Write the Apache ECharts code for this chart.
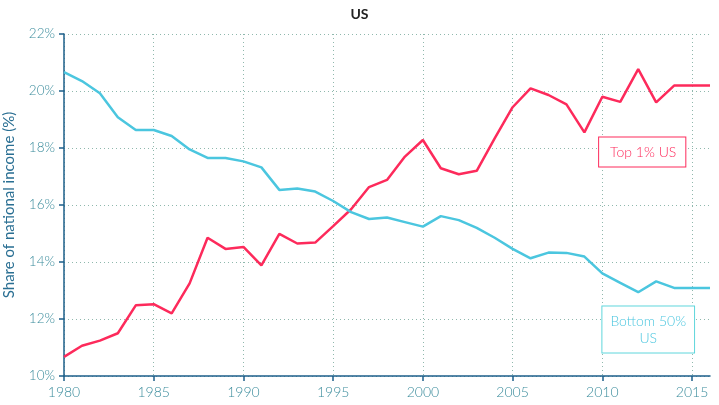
<!DOCTYPE html>
<html>
<head>
    <meta charset="utf-8">
    <title>US</title>
    <script src="https://cdn.jsdelivr.net/npm/echarts@6/dist/echarts.min.js"></script>
    <style>
        html, body { margin: 0; padding: 0; background: #fff; }
        #chart { width: 719px; height: 405px; }
    </style>
</head>
<body>
<div id="chart"></div>
<script>
    var years = [];
    for (var y = 1980; y <= 2016; y++) years.push(String(y));

    // share of national income, %
    var top1 = [10.67, 11.06, 11.24, 11.5, 12.48, 12.52, 12.2, 13.25, 14.85, 14.46,
        14.53, 13.88, 14.99, 14.65, 14.68, 15.26, 15.85, 16.63, 16.88, 17.7,
        18.28, 17.29, 17.08, 17.2, 18.34, 19.43, 20.09, 19.86, 19.53, 18.55,
        19.8, 19.62, 20.77, 19.6, 20.19, 20.19, 20.19];
    var bottom50 = [20.66, 20.35, 19.92, 19.08, 18.63, 18.63, 18.42, 17.95, 17.65, 17.65,
        17.53, 17.32, 16.53, 16.58, 16.47, 16.14, 15.75, 15.51, 15.56, 15.4,
        15.24, 15.61, 15.47, 15.2, 14.85, 14.46, 14.13, 14.33, 14.32, 14.19,
        13.6, 13.27, 12.94, 13.32, 13.09, 13.09, 13.09];

    var redColor = '#fd2a5b';
    var blueColor = '#4bc6df';
    var gridLine = { show: true, lineStyle: { color: '#8fb8ad', type: [1, 3], width: 1 } };

    var myChart = echarts.init(document.getElementById('chart'));
    myChart.setOption({
        animation: false,
        title: {
            text: 'US',
            left: 'center',
            top: 2,
            textStyle: { fontFamily: 'Lato', fontWeight: 'bold', fontSize: 14, color: '#222' }
        },
        grid: { left: 64, right: 9, top: 34, bottom: 29, outerBoundsMode: 'none', containLabel: false },
        xAxis: {
            type: 'category',
            data: years,
            boundaryGap: false,
            axisLine: { lineStyle: { color: '#1d5f8a', width: 1.5 } },
            axisTick: { interval: 4, length: 5, lineStyle: { color: '#1d5f8a', width: 1.5 } },
            axisLabel: { interval: 4, color: '#3b8c9c', fontFamily: 'Lato', fontWeight: 300,
                fontSize: 14, margin: 9 },
            splitLine: { show: true, interval: 4, lineStyle: gridLine.lineStyle }
        },
        yAxis: {
            type: 'value',
            min: 10,
            max: 22,
            interval: 2,
            name: 'Share of national income (%)',
            nameLocation: 'middle',
            nameGap: 47,
            nameTextStyle: { color: '#2a6f93', fontFamily: 'Lato', fontSize: 15 },
            axisLine: { show: true, lineStyle: { color: '#1d5f8a', width: 1.5 } },
            axisTick: { show: true, length: 5, lineStyle: { color: '#1d5f8a', width: 1.5 } },
            axisLabel: { color: '#3b8c9c', fontFamily: 'Lato', fontWeight: 300, fontSize: 13.5,
                margin: 9, formatter: '{value}%' },
            splitLine: gridLine
        },
        series: [
            {
                name: 'Top 1% US',
                type: 'line',
                data: top1,
                symbol: 'none',
                lineStyle: { color: redColor, width: 2.5 },
                itemStyle: { color: redColor },
                markPoint: {
                    symbol: 'rect',
                    symbolSize: 0,
                    data: [{ coord: ['2012', 17.86] }],
                    label: {
                        show: true,
                        position: 'inside',
                        offset: [4, 0],
                        formatter: 'Top 1% US',
                        color: redColor,
                        fontFamily: 'Lato',
                        fontWeight: 300,
                        fontSize: 14,
                        backgroundColor: '#fff',
                        borderColor: redColor,
                        borderWidth: 1,
                        padding: [8, 9, 7, 11]
                    }
                }
            },
            {
                name: 'Bottom 50% US',
                type: 'line',
                data: bottom50,
                symbol: 'none',
                lineStyle: { color: blueColor, width: 2.5 },
                itemStyle: { color: blueColor },
                markPoint: {
                    symbol: 'rect',
                    symbolSize: 0,
                    data: [{ coord: ['2012', 11.63] }],
                    label: {
                        show: true,
                        position: 'inside',
                        offset: [10, 0],
                        formatter: 'Bottom 50%\nUS',
                        align: 'center',
                        lineHeight: 17,
                        color: blueColor,
                        fontFamily: 'Lato',
                        fontWeight: 300,
                        fontSize: 14,
                        backgroundColor: '#fff',
                        borderColor: '#5fd6dc',
                        borderWidth: 1,
                        padding: [7, 8, 5, 8]
                    }
                }
            }
        ]
    });
</script>
</body>
</html>
